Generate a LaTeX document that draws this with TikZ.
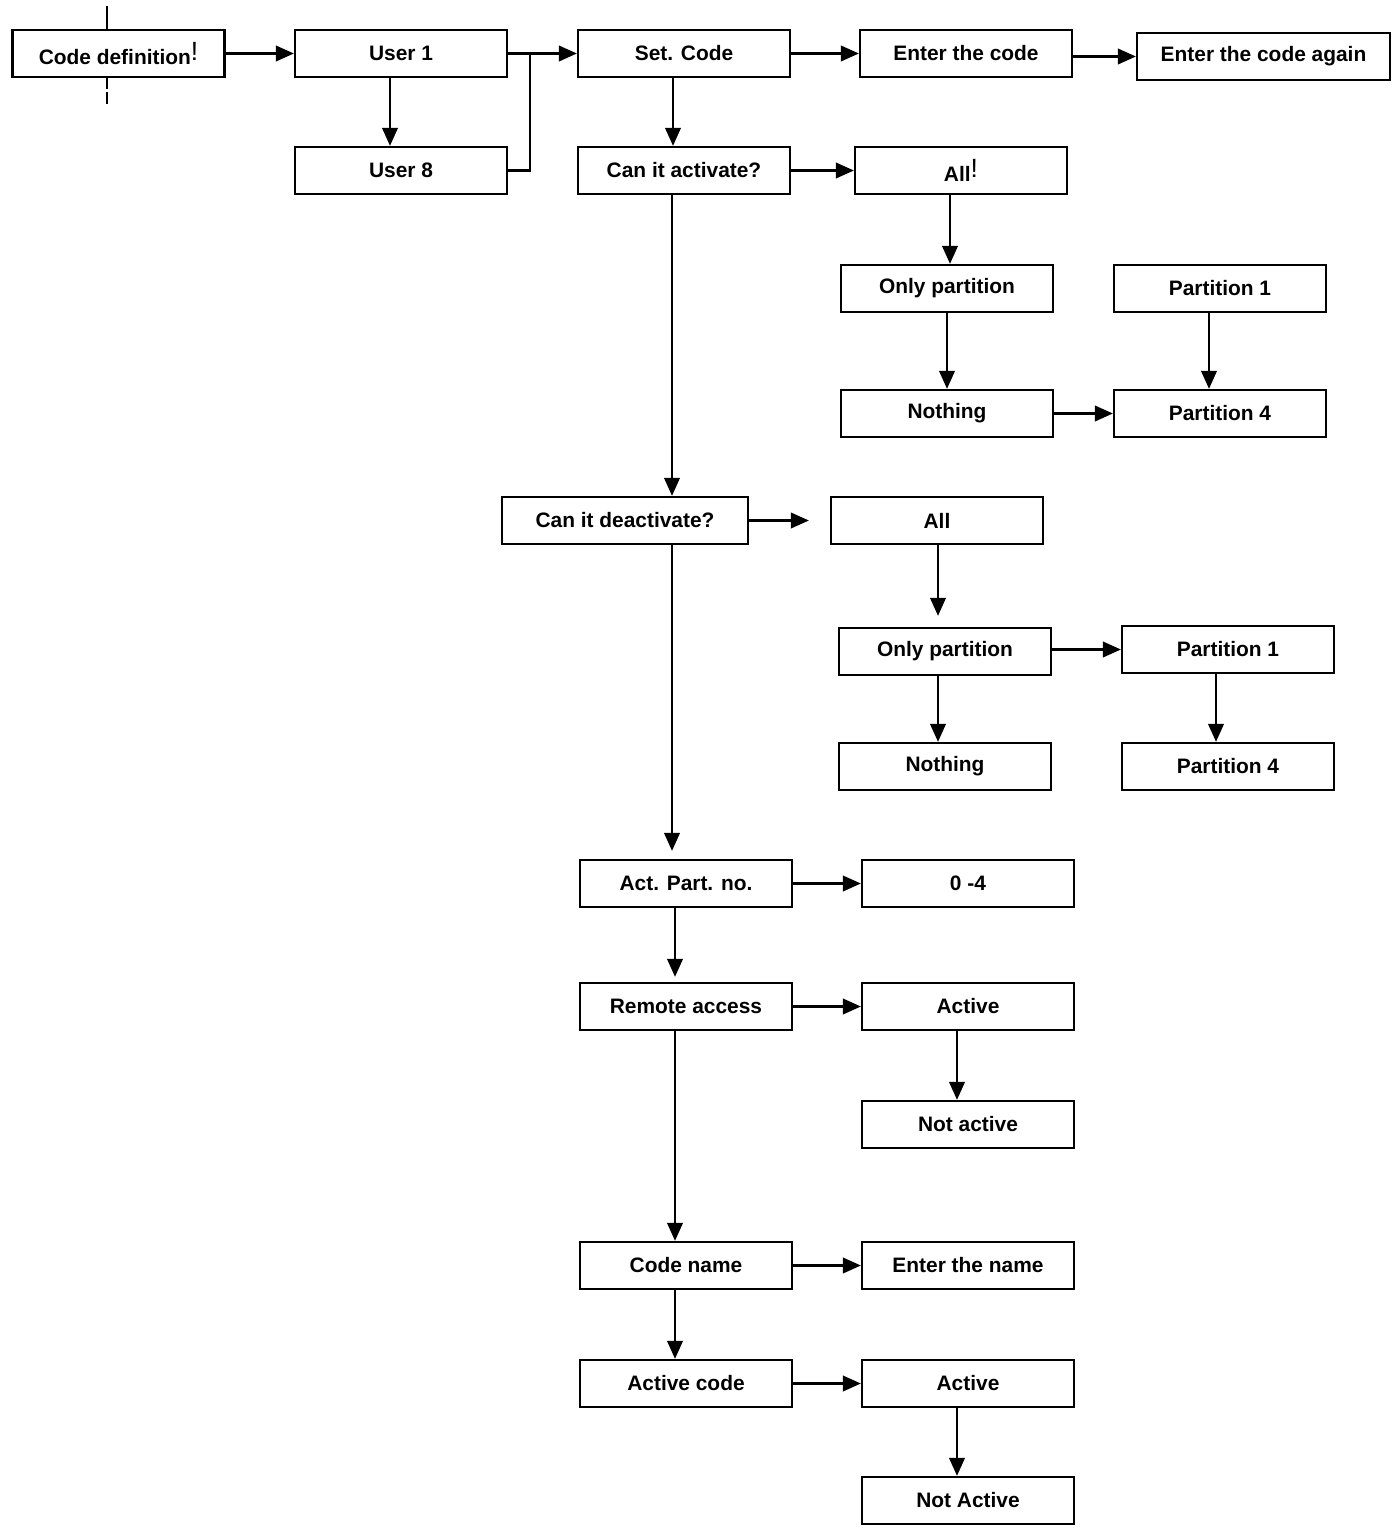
\documentclass[tikz,border=0pt]{standalone}
\usepackage{fontspec}
\setmainfont{Liberation Sans}
\usetikzlibrary{arrows.meta,positioning,calc}
\newcommand{\thinbang}{\raisebox{2pt}{\fontsize{15}{15}\selectfont\mdseries !}}
\tikzset{menubox/.style={rectangle,draw,line width=1.3pt,minimum width=4.24cm,minimum height=.94cm,inner sep=0pt,font=\bfseries\fontsize{11.9}{13}\selectfont},flow/.style={-{Triangle[length=3.6mm,width=3.1mm]},line width=1.3pt},every picture/.style={line cap=rect}}

\begin{document}
\begin{tikzpicture}[x=.02cm,y=-.02cm]
\useasboundingbox (0,0) rectangle (1395,1531);
\foreach \n/\x/\y/\t in {codedef/118.5/53.5/Code definition\thinbang,user1/401/53.5/User 1,user8/401/170.5/User 8,setcode/684/53.5/Set. Code,entercode/966/53.5/Enter the code,activate/684/170.5/Can it activate?,all1/961/170.5/All\thinbang,only1/947/288.5/Only partition,parta1/1220/288.5/Partition 1,nothing1/947/413.5/Nothing,parta4/1220/413.5/Partition 4,all2/937/520.5/All,only2/945/651.5/Only partition,partd1/1228/649.5/Partition 1,nothing2/945/766.5/Nothing,partd4/1228/766.5/Partition 4,actpart/686/883.5/Act. Part. no.,range/968/883.5/0 -4,remote/686/1006.5/Remote access,active1/968/1006.5/Active,notactive1/968/1124.5/Not active,codename/686/1265.5/Code name,entername/968/1265.5/Enter the name,activecode/686/1383.5/Active code,active2/968/1383.5/Active,notactive2/968/1500.5/Not Active}{\node[menubox] (\n) at (\x,\y) {\t};}
\node[menubox,minimum width=5.06cm] (again) at (1263.5,56.5) {Enter the code again};
\node[menubox,minimum width=4.92cm] (deact) at (625,520.5) {Can it deactivate?};
% marks on the first box
\draw[line width=1.2pt] (codedef.north -| 107,0) -- ++(0,-22);
\draw[line width=1.2pt,dash pattern=on 2mm off 1mm] (codedef.south -| 107,0) -- ++(0,26);
% user selection
\coordinate (join) at (530,53.5);
\draw[flow] (codedef) -- (user1);
\draw[flow] (user1.south -| 390,0) -- (user8.north -| 390,0);
\draw[flow] (user1) -- (setcode);
\draw[line width=1.3pt] (user8.east) -| (join);
\draw[flow] (setcode) -- (entercode);
\draw[flow] (entercode.east |- again.west) -- (again.west);
% activation
\draw[flow] (setcode.south -| 673,0) -- (activate.north -| 673,0);
\draw[flow] (activate) -- (all1);
\draw[flow] (all1.south -| 950,0) -- (only1.north -| 950,0);
\draw[flow] (only1.south -| 947,0) -- (nothing1.north -| 947,0);
\draw[flow] (parta1.south -| 1209,0) -- (parta4.north -| 1209,0);
\draw[flow] (nothing1) -- (parta4);
% deactivation
\draw[flow] (activate.south -| 672,0) -- (deact.north -| 672,0);
\draw[flow,shorten >=4.2mm] (deact) -- (all2);
\draw[flow,shorten >=2.2mm] (all2.south -| 938,0) -- (only2.north -| 938,0);
\draw[flow] (only2.east |- partd1) -- (partd1.west);
\draw[flow] (only2.south -| 938,0) -- (nothing2.north -| 938,0);
\draw[flow] (partd1.south -| 1216,0) -- (partd4.north -| 1216,0);
% remaining settings
\draw[flow,shorten >=1.6mm] (deact.south -| 672,0) -- (actpart.north -| 672,0);
\draw[flow] (actpart) -- (range);
\draw[flow,shorten >=1mm] (actpart.south -| 675,0) -- (remote.north -| 675,0);
\draw[flow] (remote) -- (active1);
\draw[flow] (active1.south -| 957,0) -- (notactive1.north -| 957,0);
\draw[flow] (remote.south -| 675,0) -- (codename.north -| 675,0);
\draw[flow] (codename) -- (entername);
\draw[flow] (codename.south -| 675,0) -- (activecode.north -| 675,0);
\draw[flow] (activecode) -- (active2);
\draw[flow] (active2.south -| 957,0) -- (notactive2.north -| 957,0);
\end{tikzpicture}
\end{document}
